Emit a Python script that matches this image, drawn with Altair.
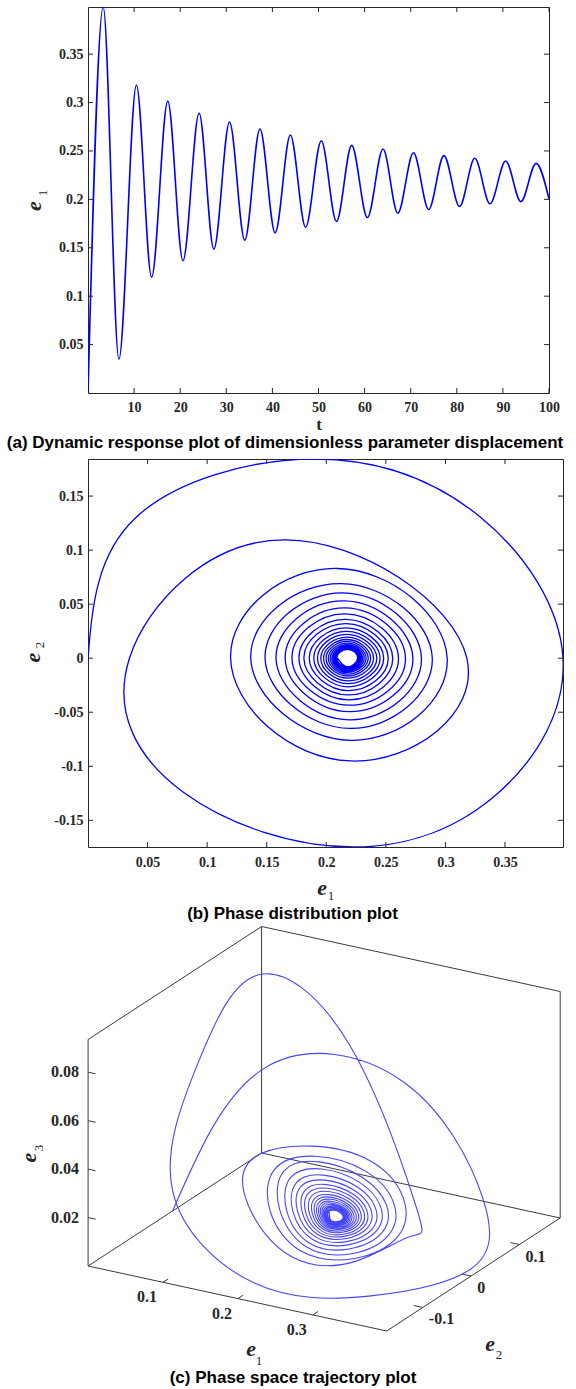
import altair as alt
import pandas as pd

# ------------------------------------------------------------------ data
# (a) e1(t): turning points read off the time response
a_start = [0.0, 0.0]
a_end = [100.0, 0.2005]
a_peak_t = [3.3, 10.5, 17.3, 24.1, 30.7, 37.3, 43.9, 50.6, 57.2, 64.0, 70.6, 77.2, 83.9, 90.6, 97.2]
a_peak_e1 = [0.3987, 0.318, 0.3015, 0.289, 0.2799, 0.2727, 0.2665, 0.2606, 0.2558, 0.252,
             0.2482, 0.2452, 0.2424, 0.2397, 0.2372]
a_trough_t = [6.7, 13.8, 20.6, 27.3, 34.0, 40.6, 47.2, 53.9, 60.6, 67.2, 73.9, 80.6, 87.2, 93.9]
a_trough_e1 = [0.0348, 0.1197, 0.1366, 0.1486, 0.1578, 0.1655, 0.1712, 0.1771, 0.1812, 0.1857,
               0.1895, 0.1926, 0.1954, 0.1977]
a_xticks = [10, 20, 30, 40, 50, 60, 70, 80, 90, 100]
a_yticks = [0.05, 0.1, 0.15, 0.2, 0.25, 0.3, 0.35]

# (b)/(c) trajectory: first two revolutions, eight points per turn
head_e1 = [0, 0.04, 0.19, 0.33, 0.3987, 0.345, 0.222, 0.08, 0.0348,
           0.06, 0.165, 0.274, 0.318, 0.289, 0.2206, 0.145, 0.1197]
head_e2 = [0, 0.13, 0.1843, 0.13, 0, -0.124, -0.1747, -0.124, 0,
           0.085, 0.1095, 0.078, 0, -0.068, -0.0951, -0.068, 0]
head_e3 = [0, 0.045, 0.042, 0.011, 0.003, 0.0043, 0.0079, 0.030, 0.064,
           0.0905, 0.0658, 0.011, 0.011, 0.0076, 0.0083, 0.021, 0.032]
# which of these points panel (b) uses (its second turn is drawn through the four turning points)
head_in_b = [1, 1, 1, 1, 1, 1, 1, 1, 1, 0, 1, 0, 1, 0, 1, 0, 1]

# later revolutions: top, right turning point, bottom, left turning point of each turn
turn_top_e1 = [0.2095, 0.2125, 0.214, 0.215, 0.2158, 0.216, 0.2165, 0.2167, 0.217, 0.2172, 0.2174,
               0.2175, 0.2175, 0.2176, 0.2176, 0.2177, 0.2177, 0.2177, 0.2178, 0.2178, 0.2178]
turn_top_e2 = [0.083, 0.069, 0.0605, 0.053, 0.0465, 0.041, 0.036, 0.032, 0.028, 0.0248, 0.022,
               0.0195, 0.0173, 0.0155, 0.0139, 0.0125, 0.0113, 0.0103, 0.0095, 0.0088, 0.0082]
turn_right_e1 = [0.3015, 0.289, 0.2799, 0.2727, 0.2665, 0.2606, 0.2558, 0.252, 0.2482, 0.2452,
                 0.2424, 0.2397, 0.2372, 0.2352, 0.2334, 0.2318, 0.2304, 0.2292, 0.2281, 0.2271,
                 0.2263]
turn_bot_e1 = [0.2205, 0.2198, 0.2194, 0.2191, 0.2189, 0.2187, 0.2185, 0.2184, 0.2183, 0.2182,
               0.2181, 0.218, 0.218, 0.2179, 0.2179, 0.2178, 0.2178, 0.2178, 0.2177, 0.2177, 0.2177]
turn_bot_e2 = [-0.076, -0.065, -0.057, -0.0495, -0.0435, -0.0385, -0.034, -0.030, -0.0265, -0.0235,
               -0.021, -0.0185, -0.0165, -0.0147, -0.0132, -0.0119, -0.0108, -0.0099, -0.0091,
               -0.0085, -0.008]
turn_left_e1 = [0.1366, 0.1486, 0.1578, 0.1655, 0.1712, 0.1771, 0.1812, 0.1857, 0.1895, 0.1926,
                0.1954, 0.1977, 0.1998, 0.2017, 0.2033, 0.2047, 0.2059, 0.207, 0.2079, 0.2087,
                0.2094]
turn_top_e3 = [0.0242, 0.0219, 0.0205, 0.0195, 0.0186, 0.0178, 0.0171, 0.0166, 0.0161, 0.0156,
               0.0152, 0.0149, 0.0146, 0.0143, 0.0141, 0.0139, 0.0137, 0.0135, 0.0134, 0.0132, 0.0131]
turn_right_e3 = [0.010, 0.0097, 0.0100, 0.0103, 0.0105, 0.0107, 0.0108, 0.0109, 0.0111, 0.0112,
                 0.0113, 0.0113, 0.0114, 0.0115, 0.0115, 0.0116, 0.0116, 0.0116, 0.0117, 0.0117,
                 0.0117]
turn_bot_e3 = [0.0082, 0.0086, 0.0090, 0.0094, 0.0097, 0.0100, 0.0102, 0.0104, 0.0106, 0.0107,
               0.0109, 0.0110, 0.0111, 0.0112, 0.0113, 0.0114, 0.0114, 0.0115, 0.0115, 0.0116, 0.0116]
turn_left_e3 = [0.0265, 0.0265, 0.0245, 0.0229, 0.0216, 0.0205, 0.0195, 0.0187, 0.0179, 0.0173,
                0.0167, 0.0162, 0.0158, 0.0154, 0.0150, 0.0147, 0.0145, 0.0142, 0.0140, 0.0138,
                0.0137]

b_xticks = [0.05, 0.1, 0.15, 0.2, 0.25, 0.3, 0.35]
b_yticks = [-0.15, -0.1, -0.05, 0, 0.05, 0.1, 0.15]
lim_e1 = [0.0, 0.3987]
lim_e2 = [-0.1747, 0.1843]
lim_e3 = [0.0, 0.0935]
c_e1_ticks = [0.1, 0.2, 0.3]
c_e2_ticks = [-0.1, 0, 0.1]
c_e3_ticks = [0.02, 0.04, 0.06, 0.08]

# ------------------------------------------------------------------ style / layout
BLUE = "#0000ff"
BLUE_C = "#4646ff"
AXC = "#262626"
BOXC = "#3a3a3a"
SERIF = "Liberation Serif"
SANS = "Liberation Sans"

LEFT = 87
A_TOP = 6
A_W, A_H = 461, 386
B_W, B_H = 475, 388
C_W, C_H = 475, 473
GAP = 66
B_TOP = A_TOP + A_H + GAP
C_TOP = B_TOP + B_H + GAP

# 3-D view (screen position of the box origin and of the three full box edges)
VIEW_O = (87.1, 1265.0)
VIEW_U = (298.6, 65.0)
VIEW_V = (173.5, -113.0)
VIEW_W = (0.0, -226.5)


def label_axis(values, padding):
    return alt.Axis(values=values, title=None, grid=False, domain=False, ticks=False, tickSize=0,
                    labelFont=SERIF, labelFontWeight="bold", labelFontSize=14, labelColor=AXC,
                    labelPadding=padding, labelFlush=False, labelOverlap=False,
                    labelExpr="'' + datum.value")


def inner_ticks(xdef, ydef, xfield, yfield, xt, yt, w, h, n=5):
    xdf = pd.DataFrame({xfield: xt})
    ydf = pd.DataFrame({yfield: yt})
    st = dict(color=AXC, strokeWidth=1)
    return [
        alt.Chart(xdf).mark_rule(**st).encode(x=xdef, y=alt.value(h), y2=alt.value(h - n)),
        alt.Chart(xdf).mark_rule(**st).encode(x=xdef, y=alt.value(0), y2=alt.value(n)),
        alt.Chart(ydf).mark_rule(**st).encode(y=ydef, x=alt.value(0), x2=alt.value(n)),
        alt.Chart(ydf).mark_rule(**st).encode(y=ydef, x=alt.value(w), x2=alt.value(w - n)),
    ]


def text_layer(text, x, y, size, font=SERIF, weight="bold", style="normal", angle=0, color=AXC):
    return alt.Chart(pd.DataFrame({"k": [0]})).mark_text(
        text=text, font=font, fontSize=size, fontWeight=weight, fontStyle=style,
        angle=angle, color=color, align="center", baseline="middle").encode(
        x=alt.value(x), y=alt.value(y))


def e_label(x, y, sub, sx, sy, angle=0):
    return [text_layer("e", x, y, 22, style="italic", angle=angle),
            text_layer(sub, sx, sy, 13, weight="normal", angle=angle)]


def caption(text, x, y):
    return text_layer(text, x, y, 17, font=SANS, color="#000000")


# ------------------------------------------------------------------ panel (a)
rows = [a_start]
for i in range(len(a_peak_t)):
    rows.append([a_peak_t[i], a_peak_e1[i]])
    if i < len(a_trough_t):
        rows.append([a_trough_t[i], a_trough_e1[i]])
rows.append(a_end)
df_a = pd.DataFrame(rows, columns=["t", "e1"])

xa = alt.X("t:Q", scale=alt.Scale(domain=[0, 100], nice=False, zero=False), axis=label_axis(a_xticks, 7))
ya = alt.Y("e1:Q", scale=alt.Scale(domain=lim_e1, nice=False, zero=False), axis=label_axis(a_yticks, 5))

line_a = alt.Chart(df_a).mark_line(color=BLUE, strokeWidth=1.6, interpolate="monotone",
                                   clip=True).encode(x=xa, y=ya)
anchor = alt.Chart(pd.DataFrame({"k": [0]})).mark_rule(color="white", strokeWidth=1).encode(
    x=alt.value(-LEFT + 0.5), x2=alt.value(-LEFT + 2), y=alt.value(-A_TOP + 0.5))

chart_a = alt.layer(
    anchor, line_a,
    *inner_ticks(xa, ya, "t", "e1", a_xticks, a_yticks, A_W, A_H),
    *e_label(-54.5, 199, "1", -45, 186, angle=270),
    text_layer("t", 231, 418, 17),
    caption("(a) Dynamic response plot of dimensionless parameter displacement", 197, 435.5),
).properties(width=A_W, height=A_H)

# ------------------------------------------------------------------ trajectory table
traj_rows = [[i, head_e1[i], head_e2[i], head_e3[i], head_in_b[i]] for i in range(len(head_e1))]
k = len(head_e1)
for j in range(len(turn_top_e1)):
    for p in [(turn_top_e1[j], turn_top_e2[j], turn_top_e3[j]),
              (turn_right_e1[j], 0.0, turn_right_e3[j]),
              (turn_bot_e1[j], turn_bot_e2[j], turn_bot_e3[j]),
              (turn_left_e1[j], 0.0, turn_left_e3[j])]:
        traj_rows.append([k, p[0], p[1], p[2], 1])
        k += 1
traj = pd.DataFrame(traj_rows, columns=["i", "e1", "e2", "e3", "in_b"])

# ------------------------------------------------------------------ panel (b)
xb = alt.X("e1:Q", scale=alt.Scale(domain=lim_e1, nice=False, zero=False), axis=label_axis(b_xticks, 8))
yb = alt.Y("e2:Q", scale=alt.Scale(domain=lim_e2, nice=False, zero=False), axis=label_axis(b_yticks, 5))

line_b = alt.Chart(traj).transform_filter("datum.in_b == 1").mark_line(
    color=BLUE, strokeWidth=1.3, interpolate="natural", clip=True).encode(x=xb, y=yb, order="i:Q")

chart_b = alt.layer(
    line_b,
    *inner_ticks(xb, yb, "e1", "e2", b_xticks, b_yticks, B_W, B_H),
    *e_label(-55.3, 198.7, "2", -48, 186, angle=270),
    *e_label(234, 429, "1", 243, 437),
    caption("(b) Phase distribution plot", 204.5, 455),
).properties(width=B_W, height=B_H)

# ------------------------------------------------------------------ panel (c)
cx = alt.Scale(domain=[LEFT, LEFT + C_W], nice=False, zero=False)
cy = alt.Scale(domain=[C_TOP, C_TOP + C_H], nice=False, zero=False, reverse=True)
XC = alt.X("px:Q", scale=cx, axis=None)
YC = alt.Y("py:Q", scale=cy, axis=None)


def project(ch):
    u = f"(datum.e1 - ({lim_e1[0]})) / {lim_e1[1] - lim_e1[0]}"
    v = f"(datum.e2 - ({lim_e2[0]})) / {lim_e2[1] - lim_e2[0]}"
    w = f"(datum.e3 - ({lim_e3[0]})) / {lim_e3[1] - lim_e3[0]}"
    return ch.transform_calculate(u=u, v=v, w=w).transform_calculate(
        px=f"{VIEW_O[0]} + {VIEW_U[0]}*datum.u + {VIEW_V[0]}*datum.v + {VIEW_W[0]}*datum.w",
        py=f"{VIEW_O[1]} + {VIEW_U[1]}*datum.u + {VIEW_V[1]}*datum.v + {VIEW_W[1]}*datum.w")


# box edges: back planes of the 3-D axes (corner index into each limit pair)
box_edges = [((0, 0, 0), (1, 0, 0)), ((1, 0, 0), (1, 1, 0)), ((0, 0, 0), (0, 1, 0)),
             ((0, 1, 0), (1, 1, 0)), ((0, 0, 0), (0, 0, 1)), ((0, 1, 0), (0, 1, 1)),
             ((1, 1, 0), (1, 1, 1)), ((0, 0, 1), (0, 1, 1)), ((0, 1, 1), (1, 1, 1))]
erows = []
for n, (a, b) in enumerate(box_edges):
    for end, c in enumerate((a, b)):
        erows.append([n, end, lim_e1[c[0]], lim_e2[c[1]], lim_e3[c[2]]])
df_edges = pd.DataFrame(erows, columns=["edge", "end", "e1", "e2", "e3"])

r1 = lim_e1[1] - lim_e1[0]
r2 = lim_e2[1] - lim_e2[0]
trows = []
lab1, lab2, lab3 = [], [], []
for t in c_e1_ticks:
    trows += [[f"x{t}", 0, t, lim_e2[0], lim_e3[0]], [f"x{t}", 1, t, lim_e2[0] + 0.03 * r2, lim_e3[0]]]
    lab1.append([str(t), t, lim_e2[0], lim_e3[0]])
for t in c_e2_ticks:
    trows += [[f"y{t}", 0, lim_e1[1], t, lim_e3[0]], [f"y{t}", 1, lim_e1[1] - 0.03 * r1, t, lim_e3[0]]]
    lab2.append([str(t), lim_e1[1], t, lim_e3[0]])
for t in c_e3_ticks:
    trows += [[f"z{t}", 0, lim_e1[0], lim_e2[0], t], [f"z{t}", 1, lim_e1[0] + 0.025 * r1, lim_e2[0], t]]
    lab3.append([str(t), lim_e1[0], lim_e2[0], t])
df_ticks = pd.DataFrame(trows, columns=["tick", "end", "e1", "e2", "e3"])
cols = ["lab", "e1", "e2", "e3"]

edges_c = project(alt.Chart(df_edges)).mark_line(color=BOXC, strokeWidth=1).encode(
    x=XC, y=YC, detail="edge:N", order="end:Q")
ticks_c = project(alt.Chart(df_ticks)).mark_line(color=BOXC, strokeWidth=1).encode(
    x=XC, y=YC, detail="tick:N", order="end:Q")
lstyle = dict(font=SERIF, fontWeight="bold", fontSize=16, color=AXC, baseline="middle")
labs1 = project(alt.Chart(pd.DataFrame(lab1, columns=cols))).mark_text(
    align="right", dx=-6, dy=15, **lstyle).encode(x=XC, y=YC, text="lab:N")
labs2 = project(alt.Chart(pd.DataFrame(lab2, columns=cols))).mark_text(
    align="left", dx=6, dy=12, **lstyle).encode(x=XC, y=YC, text="lab:N")
labs3 = project(alt.Chart(pd.DataFrame(lab3, columns=cols))).mark_text(
    align="right", dx=-9, dy=0, **lstyle).encode(x=XC, y=YC, text="lab:N")

line_c = project(alt.Chart(traj)).mark_line(color=BLUE_C, strokeWidth=1.1,
                                            interpolate="natural").encode(x=XC, y=YC, order="i:Q")

chart_c = alt.layer(
    edges_c, ticks_c, labs1, labs2, labs3, line_c,
    *e_label(163, 436, "1", 171, 448),
    *e_label(402, 431, "2", 411, 442),
    *e_label(-58.7, 244.7, "3", -49, 235, angle=270),
    caption("(c) Phase space trajectory plot", 205, 464.7),
).properties(width=C_W, height=C_H, view=alt.ViewBackground(stroke="transparent"))

chart = alt.vconcat(chart_a, chart_b, chart_c, spacing=GAP, bounds="flush").properties(
    padding=0, background="white").configure_view(stroke=AXC, strokeWidth=1)

chart.save("out.html", embed_options={"renderer": "svg", "actions": False})
